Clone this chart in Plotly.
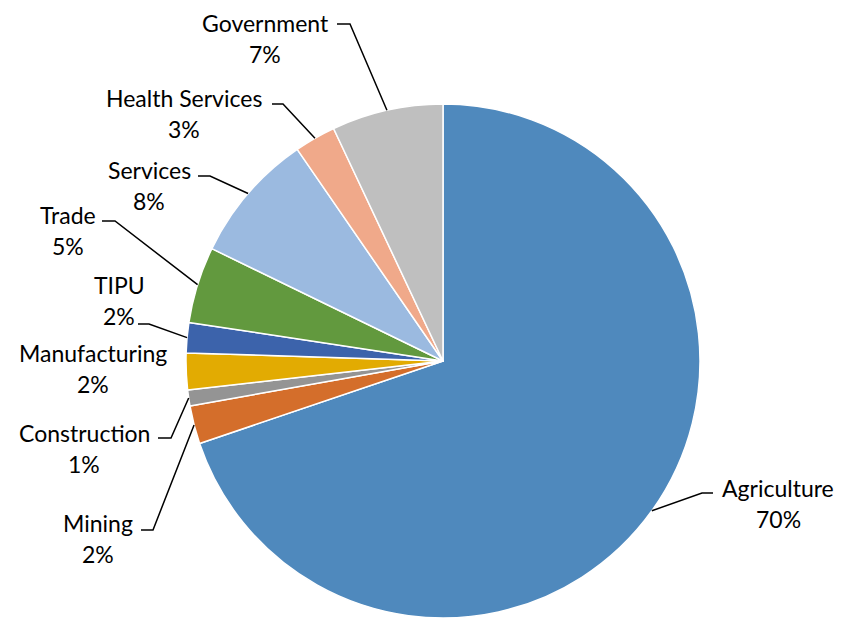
import math
import plotly.graph_objects as go

# ---- data ----
sectors = ["Agriculture", "Mining", "Construction", "Manufacturing", "TIPU",
           "Trade", "Services", "Health Services", "Government"]
shares = [69.8, 2.4, 1.0, 2.3, 1.9, 4.8, 8.2, 2.6, 7.0]
colors = ["#4F89BD", "#D46E2B", "#949494", "#E2AB02", "#3C63AB",
          "#62993E", "#9BBAE0", "#F0A98A", "#BFBFBF"]

# ---- layout config (pixels in the 844x620 window) ----
W, H = 844, 620
OFF = 8  # page body margin
CX, CY, R = 443, 361, 257
label_cfg = {
    "Agriculture":     dict(x=778, y=488, elbow=(702, 493), end=(713, 493)),
    "Mining":          dict(x=98,  y=523, elbow=(153, 530), end=(141, 530)),
    "Construction":    dict(x=84,  y=433, elbow=(171, 438), end=(158, 438)),
    "Manufacturing":   dict(x=93,  y=353, elbow=None, end=None),
    "TIPU":            dict(x=119, y=285, elbow=(149, 324), end=(138, 324)),
    "Trade":           dict(x=68,  y=215, elbow=(115, 221), end=(102, 221)),
    "Services":        dict(x=149, y=170, elbow=(210, 176), end=(198, 176)),
    "Health Services": dict(x=184, y=98,  elbow=(283, 104), end=(272, 104)),
    "Government":      dict(x=265, y=23,  elbow=(350, 24), end=(337, 24)),
}
LINE_GAP = 31
FONT = dict(family="Lato, 'Noto Sans', sans-serif", size=23, color="#000000")


def px(x):
    return (x - OFF) / W


def py(y):
    return 1 - (y - OFF) / H


fig = go.Figure(go.Pie(
    labels=sectors, values=shares, sort=False, direction="clockwise",
    rotation=0, textinfo="none", hoverinfo="label+percent",
    marker=dict(colors=colors, line=dict(color="#FFFFFF", width=1.5)),
    domain=dict(x=[px(CX - R), px(CX + R)], y=[py(CY + R), py(CY - R)]),
    showlegend=False,
))

annotations = []
shapes = []
total = sum(shares)
cum = 0.0
for name, val in zip(sectors, shares):
    mid = (cum + val / 2) / total * 2 * math.pi
    cum += val
    sx = CX + R * math.sin(mid)
    sy = CY - R * math.cos(mid)
    cfg = label_cfg[name]
    annotations.append(dict(x=px(cfg["x"]), y=py(cfg["y"]), xref="paper", yref="paper",
                            text=name, showarrow=False, font=FONT, borderpad=0,
                            xanchor="center", yanchor="middle"))
    annotations.append(dict(x=px(cfg["x"]), y=py(cfg["y"] + LINE_GAP), xref="paper",
                            yref="paper", text=f"{round(val / total * 100)}%",
                            showarrow=False, font=FONT, borderpad=0,
                            xanchor="center", yanchor="middle"))
    if cfg["elbow"] is not None:
        ex, ey = cfg["elbow"]
        tx, ty = cfg["end"]
        path = f"M {px(sx)},{py(sy)} L {px(ex)},{py(ey)} L {px(tx)},{py(ty)}"
        shapes.append(dict(type="path", xref="paper", yref="paper", path=path,
                           line=dict(color="#000000", width=1.5)))

fig.update_layout(
    width=W, height=H, margin=dict(l=0, r=0, t=0, b=0),
    paper_bgcolor="#FFFFFF", plot_bgcolor="#FFFFFF",
    annotations=annotations, shapes=shapes,
)

fig.write_html("out.html")
